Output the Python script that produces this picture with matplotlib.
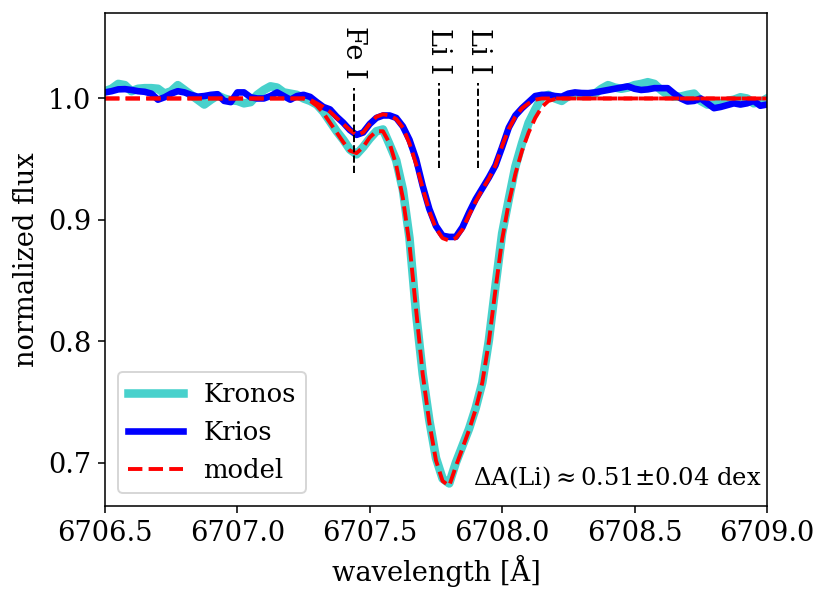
import numpy as np
import matplotlib
matplotlib.use("Agg")
import matplotlib.pyplot as plt

plt.rcParams['font.family'] = ['DejaVu Serif']
plt.rcParams['mathtext.fontset'] = 'dejavuserif'
plt.rcParams['font.size'] = 14

# wavelength grid, 0.025 A steps
wave = np.linspace(6706.5, 6709.0, 101)

# observed spectrum, Kronos
kronos = [1.006, 1.008, 1.012, 1.011, 1.006, 1.008, 1.0085, 1.0085, 1.008, 1.004,
          1.006, 1.011, 1.007, 1.003, 0.999, 0.995, 0.999, 1.0025, 1.000, 0.9985,
          0.998, 0.996, 0.997, 1.003, 1.007, 1.010, 1.009, 1.005, 1.004, 1.003,
          1.000, 0.998, 0.995, 0.989, 0.981, 0.973, 0.966, 0.958, 0.954, 0.960,
          0.967, 0.973, 0.9745, 0.962, 0.949, 0.925, 0.885, 0.823, 0.773, 0.735,
          0.704, 0.687, 0.683, 0.700, 0.714, 0.728, 0.745, 0.766, 0.801, 0.846,
          0.889, 0.917, 0.944, 0.963, 0.980, 0.991, 1.001, 1.003, 1.000, 0.998,
          1.002, 1.003, 1.002, 1.003, 1.004, 1.008, 1.011, 1.009, 1.008, 1.009,
          1.011, 1.012, 1.0134, 1.012, 1.007, 1.003, 1.0016, 1.0016, 1.003, 1.004,
          0.998, 0.995, 0.995, 0.996, 0.998, 0.999, 1.001, 1.000, 0.996, 0.997,
          1.000]

# observed spectrum, Krios
krios = [1.005, 1.006, 1.0075, 1.0077, 1.007, 1.006, 1.0055, 1.004, 0.999, 1.001,
         1.004, 1.006, 1.005, 1.003, 1.0015, 1.002, 1.003, 1.0035, 0.998, 0.997,
         1.005, 1.005, 1.001, 1.000, 1.000, 1.002, 1.005, 1.002, 0.999, 1.002,
         1.003, 1.0013, 0.997, 0.993, 0.991, 0.985, 0.980, 0.974, 0.970, 0.972,
         0.979, 0.984, 0.986, 0.986, 0.984, 0.977, 0.966, 0.950, 0.928, 0.909,
         0.895, 0.887, 0.886, 0.886, 0.894, 0.906, 0.917, 0.926, 0.935, 0.945,
         0.960, 0.976, 0.986, 0.992, 0.997, 1.002, 1.003, 1.003, 1.002, 1.0015,
         1.004, 1.005, 1.0045, 1.0044, 1.005, 1.006, 1.007, 1.008, 1.009, 1.010,
         1.008, 1.007, 1.0075, 1.0085, 1.0085, 1.0085, 1.004, 1.000, 0.9975, 0.998,
         1.000, 0.996, 0.992, 0.993, 0.9945, 0.996, 0.995, 0.996, 0.998, 0.994,
         0.995]

# synthetic fits
model_kronos = [1.0] * 30 + [
    1.000, 0.998, 0.994, 0.988, 0.980, 0.972, 0.964, 0.957, 0.955, 0.960,
    0.968, 0.973, 0.973, 0.963, 0.945, 0.918, 0.880, 0.826, 0.773, 0.733,
    0.702, 0.685, 0.681, 0.697, 0.712, 0.727, 0.744, 0.766, 0.800, 0.843,
    0.884, 0.914, 0.938, 0.957, 0.972, 0.984, 0.993, 0.998, 0.9995] + [1.0] * 32

model_krios = [1.0] * 30 + [
    1.000, 0.999, 0.996, 0.993, 0.989, 0.984, 0.979, 0.974, 0.970, 0.972,
    0.979, 0.985, 0.987, 0.986, 0.983, 0.976, 0.963, 0.946, 0.926, 0.907,
    0.893, 0.885, 0.883, 0.885, 0.892, 0.904, 0.915, 0.925, 0.934, 0.945,
    0.961, 0.975, 0.985, 0.992, 0.996, 0.999] + [1.0] * 35

# line identifications
line_names = ["Fe I", "Li I", "Li I"]
line_waves = [6707.44, 6707.76, 6707.91]
line_bottom = [0.939, 0.943, 0.943]
line_top = [1.009, 1.013, 1.013]

fig = plt.figure(figsize=(830 / 140, 601 / 140), dpi=140)
ax = fig.add_axes([0.1265, 0.158, 0.7975, 0.82])

ax.plot(wave, kronos, color="mediumturquoise", lw=4.4, label="Kronos")
ax.plot(wave, krios, color="blue", lw=3.4, label="Krios")
ax.plot(wave, model_kronos, color="red", ls="--", lw=2, label="model")
ax.plot(wave, model_krios, color="red", ls="--", lw=2)

for name, w, y0, y1 in zip(line_names, line_waves, line_bottom, line_top):
    ax.plot([w, w], [y0, y1], color="k", ls="--", lw=1)
    ax.text(w, y1 + 0.007, name, rotation=270, ha="center", va="bottom", fontsize=14)

ax.text(0.992, 0.03, r"$\Delta$A(Li)$\approx$0.51$\pm$0.04 dex", transform=ax.transAxes,
        ha="right", va="bottom", fontsize=12.5)

ax.set_xlim(6706.5, 6709.0)
ax.set_ylim(0.6644, 1.0702)
ax.set_xticks([6706.5, 6707.0, 6707.5, 6708.0, 6708.5, 6709.0])
ax.set_xticklabels(["6706.5", "6707.0", "6707.5", "6708.0", "6708.5", "6709.0"])
ax.set_yticks([0.7, 0.8, 0.9, 1.0])
ax.set_yticklabels(["0.7", "0.8", "0.9", "1.0"])
ax.set_xlabel("wavelength [Å]")
ax.set_ylabel("normalized flux")
ax.legend(loc="lower left", fontsize=13.3, handlelength=2.1)

fig.savefig("out.png", dpi=140)
